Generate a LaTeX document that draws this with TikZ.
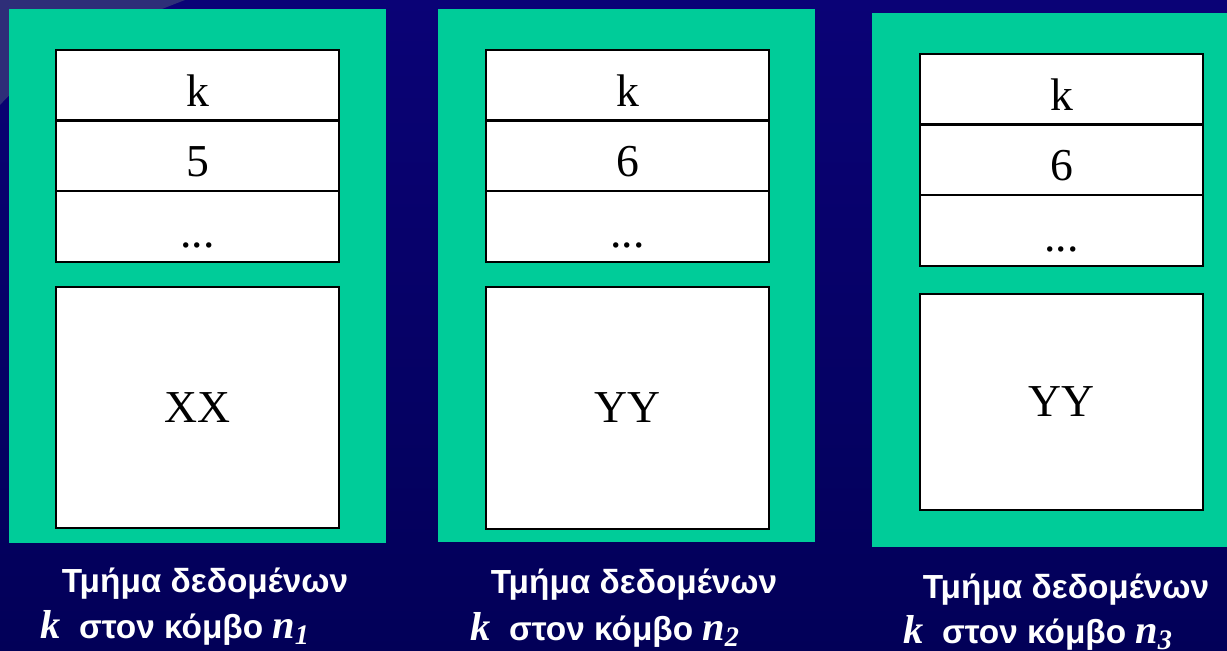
\documentclass[tikz,border=0pt]{standalone}
\usepackage{fontspec}
\setmainfont{Liberation Serif}
\newfontfamily\capfont{Liberation Sans}
\usetikzlibrary{positioning}
\definecolor{navytop}{RGB}{10,2,118}
\definecolor{navybot}{RGB}{2,0,88}
\definecolor{swirl}{RGB}{46,46,120}
\definecolor{panelgreen}{RGB}{0,204,153}
\newcommand{\itvar}[1]{{\rmfamily\bfseries\itshape\fontsize{23}{26}\selectfont #1}}

\begin{document}
\begin{tikzpicture}[
  x=0.02cm, y=-0.02cm,
  panel/.style={fill=panelgreen, inner sep=0pt, minimum width=7.54cm, minimum height=10.68cm},
  row/.style={draw, fill=white, line width=1.2pt, inner sep=0pt, minimum width=5.66cm, text height=1.13cm, text depth=0.29cm, font=\fontsize{26}{30}\selectfont},
  store/.style={draw, fill=white, line width=1.2pt, inner sep=0pt, minimum width=5.66cm, font=\fontsize{26}{30}\selectfont},
  captext/.style={text=white, inner sep=0pt, font=\capfont\bfseries\fontsize{19}{23}\selectfont}
]

\useasboundingbox (0,0) rectangle (1227,651);
\fill[top color=navytop, bottom color=navybot] (0,0) rectangle (1227,651);
\fill[swirl] (0,0) -- (185,0) .. controls (120,25) and (40,60) .. (0,105) -- cycle;

\node[panel] (g1) at (197.5,276) {};
\node[panel] (g2) at (626.5,275.5) {};
\node[panel, minimum width=7.1cm] (g3) at (1049.5,280) {};

\node[row] (k1) at (197.5,85.5) {k};
\node[row] (v1) at (197.5,156) {5};
\node[row] (d1) at (197.5,226.5) {...};
\node[store, minimum height=4.82cm] (s1) at (197.5,407.5) {XX};

\node[row] (k2) at (627.5,85.5) {k};
\node[row] (v2) at (627.5,156) {6};
\node[row] (d2) at (627.5,226.5) {...};
\node[store, minimum height=4.84cm] (s2) at (627.5,408) {YY};

\node[row] (k3) at (1061.5,89.3) {k};
\node[row] (v3) at (1061.5,160) {6};
\node[row] (d3) at (1061.5,230.7) {...};
\node[store, minimum height=4.32cm] (s3) at (1061.5,402) {YY};

\node[captext, anchor=base] (t1) at (205,592) {Τμήμα δεδομένων};
\node[captext, anchor=base west] (n1) at (40,638) {\itvar{k}\ \ στον κόμβο \itvar{n\textsubscript{1}}};

\node[captext, anchor=base] (t2) at (634,593) {Τμήμα δεδομένων};
\node[captext, anchor=base west] (n2) at (470,640) {\itvar{k}\ \ στον κόμβο \itvar{n\textsubscript{2}}};

\node[captext, anchor=base] (t3) at (1066,598) {Τμήμα δεδομένων};
\node[captext, anchor=base west] (n3) at (903,643) {\itvar{k}\ \ στον κόμβο \itvar{n\textsubscript{3}}};

\end{tikzpicture}
\end{document}
